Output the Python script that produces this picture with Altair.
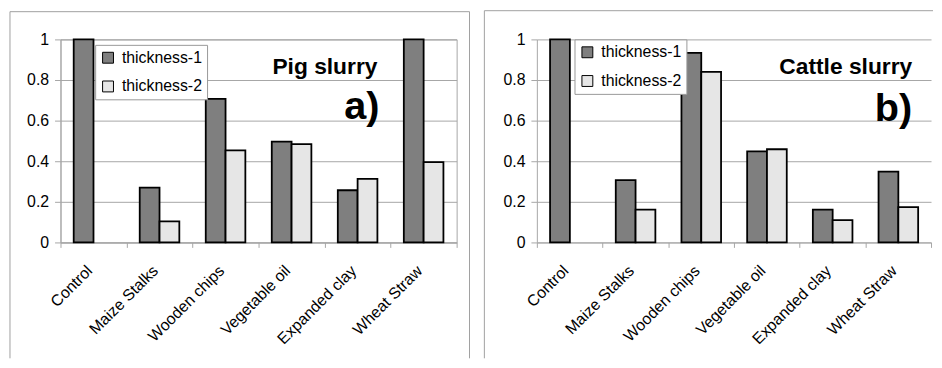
import altair as alt
import pandas as pd

materials = ["Control", "Maize Stalks", "Wooden chips", "Vegetable oil", "Expanded clay", "Wheat Straw"]
series = ["thickness-1", "thickness-2"]
pig_t1 = [1.0, 0.27, 0.707, 0.497, 0.257, 1.0]
pig_t2 = [None, 0.104, 0.453, 0.484, 0.313, 0.396]
cattle_t1 = [1.0, 0.307, 0.934, 0.449, 0.162, 0.349]
cattle_t2 = [None, 0.162, 0.840, 0.459, 0.110, 0.174]
y_ticks = [0, 0.2, 0.4, 0.6, 0.8, 1]
panel_titles = ["Pig slurry", "Cattle slurry"]
panel_tags = ["a)", "b)"]

FONT = "Liberation Sans"
GRID = "#a6a6a6"
FRAME = "#a0a0a0"
COLORS = ["#7f7f7f", "#e6e6e6"]
H = 205


def make_df(t1, t2):
    rows = []
    for m, a, b in zip(materials, t1, t2):
        if a is not None:
            rows.append({"material": m, "series": series[0], "value": a})
        if b is not None:
            rows.append({"material": m, "series": series[1], "value": b})
    return pd.DataFrame(rows)


def one():
    return pd.DataFrame({"k": [0]})


def panel(df, width, title, tag, legend_x, legend_y, frame_left, frame_top,
          frame_right, title_x, title_y, tag_x, tag_y, view_stroke):
    bars = alt.Chart(df).mark_bar(stroke="black", strokeWidth=1.8).encode(
        x=alt.X("material:N", sort=materials,
                scale=alt.Scale(domain=materials, paddingInner=0, paddingOuter=0),
                axis=alt.Axis(title=None, labelAngle=-45, labelAlign="right",
                              labelBaseline="top", labelFontSize=16, labelFont=FONT,
                              labelColor="black", tickBand="extent", tickSize=5,
                              tickColor=GRID, domainColor=GRID, labelPadding=15,
                              labelOffset=-10, labelOverlap=False)),
        xOffset=alt.XOffset("series:N",
                            scale=alt.Scale(domain=series, paddingInner=0, paddingOuter=0.667)),
        y=alt.Y("value:Q", scale=alt.Scale(domain=[0, 1], nice=False),
                axis=alt.Axis(title=None, values=y_ticks, format="~g", grid=True,
                              gridColor=GRID, tickColor=GRID, domainColor=GRID, tickSize=6,
                              labelPadding=6, labelFontSize=16, labelFont=FONT,
                              labelColor="black")),
        color=alt.Color("series:N", scale=alt.Scale(domain=series, range=COLORS),
                        legend=alt.Legend(orient="none", legendX=legend_x, legendY=legend_y,
                                          title=None, fillColor="white", strokeColor="#999",
                                          padding=5, symbolType="square", symbolSize=121,
                                          symbolStrokeColor="black", symbolStrokeWidth=1,
                                          labelFontSize=16, labelFont=FONT, labelColor="black",
                                          rowPadding=13, labelOffset=6, direction="vertical")),
    )
    layers = []
    bottom = 322
    layers.append(alt.Chart(one()).mark_rule(color=FRAME, strokeWidth=1).encode(
        x=alt.value(frame_left), y=alt.value(frame_top), y2=alt.value(bottom)))
    if frame_right is not None:
        layers.append(alt.Chart(one()).mark_rule(color=FRAME, strokeWidth=1).encode(
            x=alt.value(frame_right), y=alt.value(frame_top), y2=alt.value(bottom)))
        top_end = frame_right
    else:
        top_end = width + 2
    layers.append(alt.Chart(one()).mark_rule(color=FRAME, strokeWidth=1).encode(
        x=alt.value(frame_left), x2=alt.value(top_end), y=alt.value(frame_top)))
    layers.append(bars)
    layers.append(alt.Chart(one()).mark_text(text=title, font=FONT, fontSize=23,
                                             fontWeight="bold", align="right",
                                             baseline="alphabetic", color="black").encode(
        x=alt.value(title_x), y=alt.value(title_y)))
    layers.append(alt.Chart(one()).mark_text(text=tag, font=FONT, fontSize=40,
                                             fontWeight="bold", align="right",
                                             baseline="alphabetic", color="black").encode(
        x=alt.value(tag_x), y=alt.value(tag_y)))
    return alt.layer(*layers).properties(width=width, height=H,
                                         view=alt.ViewBackground(stroke=view_stroke))


pa = panel(make_df(pig_t1, pig_t2), 400, panel_titles[0], panel_tags[0],
           35, 5.5, -51, -28, 413, 320, 34.5, 322, 80.5, GRID)
pb = panel(make_df(cattle_t1, cattle_t2), 398, panel_titles[1], panel_tags[1],
           38, 0, -53, -29, None, 379, 35, 379, 82.5, "transparent")

chart = alt.hconcat(pa, pb, spacing=13).resolve_scale(color="independent").resolve_legend(
    color="independent"
).properties(
    padding={"left": 1, "top": 0, "right": 0, "bottom": 0},
    background="white",
)

chart.save("out.html", embed_options={"renderer": "svg", "actions": False})
